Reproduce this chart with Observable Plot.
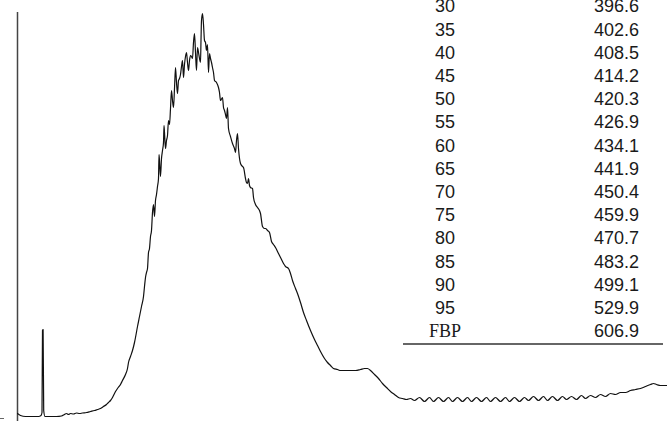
<!DOCTYPE html>
<html>
<head>
<meta charset="utf-8">
<script src="https://cdn.jsdelivr.net/npm/d3@7"></script>
<script src="https://cdn.jsdelivr.net/npm/@observablehq/plot@0.6"></script>
<style>
  html, body { margin: 0; padding: 0; background: #fff; }
  #wrap { position: relative; width: 667px; height: 421px; overflow: hidden; }
  #chart svg { display: block; }
  #tbl { position: absolute; left: 403px; top: -4.6px; width: 260px; border-collapse: collapse;
         border-bottom: 2px solid #666; font-family: "Liberation Sans", Arial, sans-serif; font-size: 18px; color: #1a1a1a; }
  #tbl td { height: 23.2px; line-height: 23.2px; padding: 0; white-space: nowrap; }
  #tbl td.c1 { width: 84px; text-align: center; }
  #tbl td.c2 { text-align: right; padding-right: 24px; }
  #tbl td.serif { font-family: "Liberation Serif", "Times New Roman", serif; }
</style>
</head>
<body>
<div id="wrap"><div id="chart"></div><table id="tbl"></table></div>
<script>
// Retention time (min) and detector signal (arbitrary units)
const time = [
  1.7,2.0,2.5,3.2,3.8,4.05,4.15,4.2,4.26,4.32,4.45,5.0,5.6,6.1,6.4,6.6,6.8,7.0,7.3,7.6,7.9,8.2,8.6,9.0,9.4,9.7,10.0,10.3,10.6,10.8,
  11.0,11.2,11.5,11.7,12.0,12.2,12.5,12.7,12.8,13.0,13.2,13.4,13.5,13.7,13.9,14.1,14.3,14.4,14.5,14.6,14.7,14.8,14.9,15.0,15.1,15.2,15.3,15.4,15.5,15.6,
  15.7,15.8,15.85,15.9,16.0,16.1,16.2,16.3,16.35,16.4,16.5,16.6,16.7,16.8,16.9,17.0,17.1,17.2,17.3,17.4,17.5,17.6,17.7,17.8,17.9,18.0,18.1,18.2,18.3,18.4,
  18.5,18.6,18.7,18.8,18.9,19.0,19.1,19.2,19.3,19.4,19.5,19.6,19.7,19.8,19.9,20.0,20.05,20.1,20.2,20.3,20.4,20.5,20.6,20.7,20.8,20.9,21.0,21.1,21.2,21.3,
  21.4,21.6,21.8,21.9,22.0,22.2,22.3,22.4,22.5,22.6,22.7,22.8,23.0,23.2,23.4,23.5,23.6,23.7,23.8,24.0,24.2,24.3,24.5,24.6,24.7,24.8,24.9,25.0,25.2,25.3,
  25.5,25.7,25.9,26.0,26.2,26.4,26.5,26.7,26.9,27.1,27.3,27.5,27.8,28.0,28.3,28.5,28.8,29.0,29.2,29.5,29.7,30.0,30.3,30.6,31.0,31.4,31.7,32.0,32.4,32.7,
  33.0,33.3,33.7,34.0,34.5,35.0,35.5,36.0,36.4,36.7,37.0,37.4,37.8,38.2,38.6,39.0,39.4,39.8,40.2,40.6,41.0,
  41.4,41.9,42.4,42.9,43.3,43.8,44.3,44.8,45.2,45.7,46.2,46.7,47.1,47.6,48.1,48.6,49.0,49.5,50.0,50.5,50.9,51.4,51.9,52.4,52.8,53.3,53.8,54.3,54.7,55.2,
  55.7,56.2,56.6,57.1,57.6,58.1,58.5,59.0,59.5,60.0,60.5,61.0,61.5,62.0,62.5,63.0,63.5,64.0,64.5,65.0,65.3,65.6,66.0,66.4,66.7
];
const signal = [
  8,6,5,5,5,6,9,91,92,11,5,5,5,5.5,7,8,7,8,7.5,8.5,8,8.5,9,10,11,12,13,15,17,19,
  21,24,30,33,37,41,47,53,59,65,71,79,84,95,105,115,125,135,144,149,153,169,173,185,191,209,217,205,221,227,
  235,243,267,261,245,263,271,279,296,289,273,281,286,301,297,313,331,321,314,333,354,339,328,341,343,347,355,361,344,357,
  365,369,359,351,361,366,365,363,379,388,369,351,374,369,363,359,381,401,408,397,381,379,371,377,349,368,363,359,354,349,
  341,339,334,329,321,324,314,311,307,303,314,293,285,278,273,269,281,288,273,258,255,254,243,239,238,243,236,234,233,224,
  217,214,211,208,195,193,193,191,189,180,177,174,168,164,158,155,153,148,141,133,128,119,109,101,91,82,76,70,63,59,
  56,53,52,51,51,51,51,52,53,53,51,47,43,38,34,30,27,24,23,22,23,
  21,24,20,24,20,24,20,24,20,24,20,24,20,24,20,24,20,24,20,24,20,24,20,24,21,25,21,25,21,25,
  21,25,22,25,22,26,23,26,24,27,25,28,27,29,29,31,32,33,35,37,38,37,36,36,36
];
// Boiling-point distribution table (% off, temperature °C)
const pctOff = ["30","35","40","45","50","55","60","65","70","75","80","85","90","95","FBP"];
const tempC = ["396.6","402.6","408.5","414.2","420.3","426.9","434.1","441.9","450.4","459.9","470.7","483.2","499.1","529.9","606.9"];

const data = time.map((t, i) => ({t, s: signal[i]}));

const chart = Plot.plot({
  width: 667,
  height: 421,
  marginLeft: 17,
  marginRight: 0,
  marginTop: 0,
  marginBottom: 0,
  x: {domain: [1.7, 66.7], axis: null},
  y: {domain: [0, 421], axis: null},
  marks: [
    Plot.ruleX([1.7], {y1: 0, y2: 409, stroke: "#444", strokeWidth: 1.5}),
    Plot.axisY({ticks: [3], tickSize: 4, dx: -13, tickFormat: () => "", label: null, stroke: "#666"}),
    Plot.line(data, {x: "t", y: "s", stroke: "#111", strokeWidth: 1.2, curve: "monotone-x"})
  ]
});
document.getElementById("chart").appendChild(chart);

const tbl = d3.select("#tbl");
const rows = tbl.selectAll("tr").data(pctOff.map((p, i) => [p, tempC[i]])).join("tr");
rows.append("td").attr("class", d => "c1" + (d[0] === "FBP" ? " serif" : "")).text(d => d[0]);
rows.append("td").attr("class", "c2").text(d => d[1]);
</script>
</body>
</html>
